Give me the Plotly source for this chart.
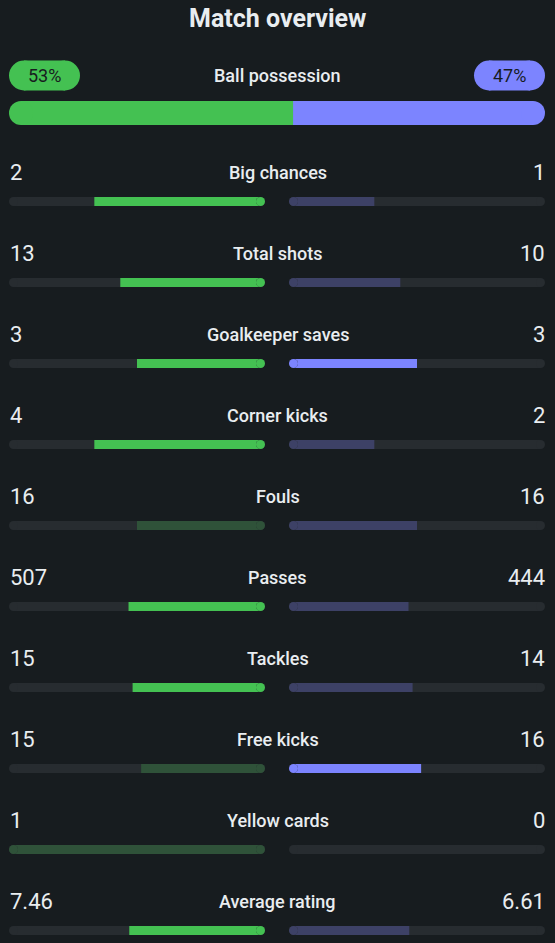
import plotly.graph_objects as go

# match stats (home, away)
stats = ["Big chances", "Total shots", "Goalkeeper saves", "Corner kicks", "Fouls",
         "Passes", "Tackles", "Free kicks", "Yellow cards", "Average rating"]
home = [2, 13, 3, 4, 16, 507, 15, 15, 1, 7.46]
away = [1, 10, 3, 2, 16, 444, 14, 16, 0, 6.61]
home_txt = ["2", "13", "3", "4", "16", "507", "15", "15", "1", "7.46"]
away_txt = ["1", "10", "3", "2", "16", "444", "14", "16", "0", "6.61"]
# which side is highlighted (better value)
home_hi = [1, 1, 1, 1, 0, 1, 1, 0, 0, 1]
away_hi = [0, 0, 1, 0, 0, 0, 0, 1, 0, 0]
possession = [53, 47]

BG = "#171c1f"
TRACK = "#272c30"
GREEN, GREEN_DIM = "#44c152", "#2f5239"
BLUE, BLUE_DIM = "#7c84ff", "#3d4166"
TXT = "#e9edf0"
FONT = "Roboto"

W, H = 555, 943
ROW = 81            # px per stat row
BAR_PX = 9          # thin bar thickness
SIDE_PX = 256       # px length of one side bar
POS_PX = 536        # px length of possession bar
BAR_H = BAR_PX / ROW

rows = list(range(len(stats)))
home_share = [h / (h + a) if h + a else 0 for h, a in zip(home, away)]
away_share = [a / (h + a) if h + a else 0 for h, a in zip(home, away)]

fig = go.Figure()
NOLINE = dict(width=0)


def caps(xs, ys, cols, size, xa, ya):
    # round ends drawn as circle markers
    fig.add_trace(go.Scatter(x=xs, y=ys, mode="markers", xaxis=xa, yaxis=ya, hoverinfo="skip",
                             marker=dict(size=size, color=cols, line=NOLINE)))


def side_traces(share, hi, c_on, c_off, xa):
    rr = BAR_PX / 2 / SIDE_PX
    n = len(rows)
    # empty track
    fig.add_trace(go.Bar(y=rows, x=[1 - 2 * rr] * n, base=[rr] * n, orientation="h",
                         width=BAR_H, marker=dict(color=TRACK, line=NOLINE),
                         xaxis=xa, yaxis="y", hoverinfo="skip"))
    caps([rr] * n + [1 - rr] * n, rows + rows, TRACK, BAR_PX, xa, "y")
    # filled part, grows from the inner end
    cols = [c_on if f else c_off for f in hi]
    idx = [i for i in rows if share[i] > 0]
    base = [min(share[i], 1 - rr) for i in idx]
    fig.add_trace(go.Bar(y=idx, x=[rr - b for b in base], base=base, orientation="h",
                         width=BAR_H, marker=dict(color=[cols[i] for i in idx], line=NOLINE),
                         xaxis=xa, yaxis="y", hoverinfo="skip"))
    full = [i for i in idx if share[i] >= 1]
    caps([rr] * len(idx) + [1 - rr] * len(full), idx + full,
         [cols[i] for i in idx] + [cols[i] for i in full], BAR_PX, xa, "y")


side_traces(home_share, home_hi, GREEN, GREEN_DIM, "x")
side_traces(away_share, away_hi, BLUE, BLUE_DIM, "x2")

# possession bar
hp, ap = possession
POS_H = 24
pr = POS_H / 2 * 100 / POS_PX
fig.add_trace(go.Bar(y=[1], x=[100 - 2 * pr], base=[pr], orientation="h", width=POS_H / 37.5,
                     marker=dict(color=BLUE, line=NOLINE), xaxis="x3", yaxis="y2", hoverinfo="skip"))
fig.add_trace(go.Bar(y=[1], x=[hp - pr], base=[pr], orientation="h", width=POS_H / 37.5,
                     marker=dict(color=GREEN, line=NOLINE), xaxis="x3", yaxis="y2", hoverinfo="skip"))
caps([pr, 100 - pr], [1, 1], [GREEN, BLUE], POS_H, "x3", "y2")

# possession pills
PILL_W, PILL_H = 71, 30
pw = PILL_W * 100 / POS_PX
kr = PILL_H / 2 * 100 / POS_PX
for x0, col in [(0, GREEN), (100 - pw, BLUE)]:
    fig.add_trace(go.Bar(y=[0], x=[pw - 2 * kr], base=[x0 + kr], orientation="h",
                         width=PILL_H / 37.5, marker=dict(color=col, line=NOLINE),
                         xaxis="x3", yaxis="y2", hoverinfo="skip"))
    caps([x0 + kr, x0 + pw - kr], [0, 0], col, PILL_H, "x3", "y2")

ann = [
    dict(text="Match overview", x=0.5, y=1 - 18.5 / H, xref="paper", yref="paper",
         font=dict(size=25, weight=700)),
    dict(text="Ball possession", x=50, y=0, xref="x3", yref="y2", font=dict(size=18, weight=500)),
    dict(text=f"{hp}%", x=pw / 2, y=0, xref="x3", yref="y2", font=dict(size=18, color=BG)),
    dict(text=f"{ap}%", x=100 - pw / 2, y=0, xref="x3", yref="y2", font=dict(size=18, color=BG)),
]
for i, name in enumerate(stats):
    ann.append(dict(text=name, x=0.5, y=i, xref="paper", yref="y", yshift=29,
                    font=dict(size=18, weight=500)))
    ann.append(dict(text=home_txt[i], x=7.5 / W, y=i, xref="paper", yref="y", yshift=29.5,
                    xanchor="left", font=dict(size=22)))
    ann.append(dict(text=away_txt[i], x=547 / W, y=i, xref="paper", yref="y", yshift=29.5,
                    xanchor="right", font=dict(size=22)))
for a in ann:
    a.setdefault("showarrow", False)
    a.setdefault("xanchor", "center")
    a["yanchor"] = "middle"

hidden = dict(visible=False, fixedrange=True)
top = 161
span = (H - top) / ROW
fig.update_layout(
    template="none",
    width=W, height=H, margin=dict(l=0, r=0, t=0, b=0),
    paper_bgcolor=BG, plot_bgcolor=BG, barmode="overlay", showlegend=False,
    font=dict(family=FONT, color=TXT),
    xaxis=dict(domain=[9 / W, 265 / W], range=[1, 0], anchor="y", **hidden),
    xaxis2=dict(domain=[289 / W, 545 / W], range=[0, 1], anchor="y", **hidden),
    xaxis3=dict(domain=[9 / W, 545 / W], range=[0, 100], anchor="y2", **hidden),
    yaxis=dict(domain=[0, 1 - top / H], range=[span - 0.5, -0.5], anchor="x", **hidden),
    yaxis2=dict(domain=[1 - 131.75 / H, 1 - 56.75 / H], range=[1.5, -0.5], anchor="x3", **hidden),
    annotations=ann,
)

fig.write_html("out.html", config=dict(displayModeBar=False, staticPlot=True),
               post_script="document.body.style.margin='0';"
                           "document.body.style.background='%s';" % BG)
